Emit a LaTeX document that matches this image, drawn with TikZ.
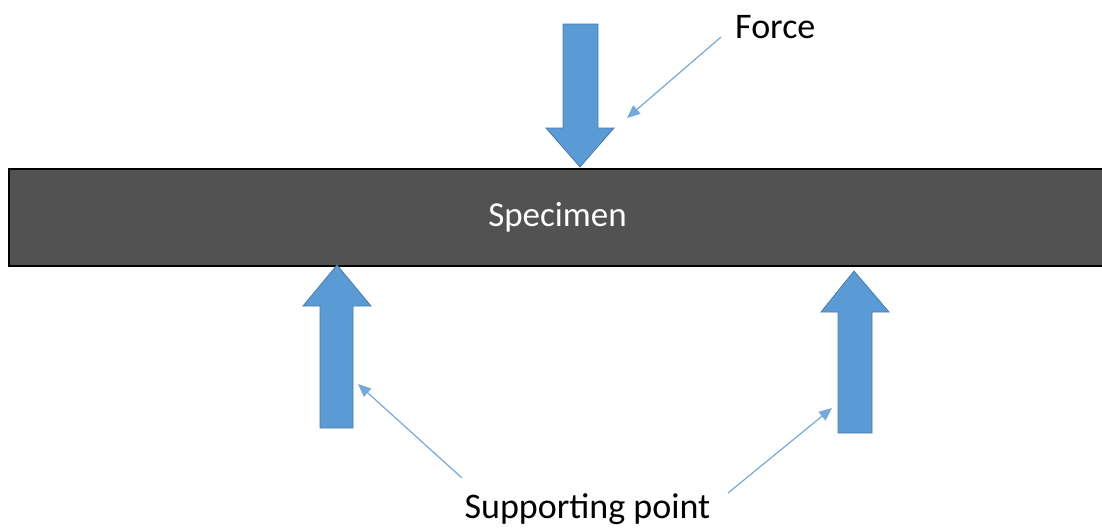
\documentclass[tikz,border=0pt]{standalone}
\usepackage{fontspec}
\setmainfont{Carlito}
\usepackage{xcolor}
\usepackage{tikz}
\usetikzlibrary{arrows.meta}
\definecolor{arrowblue}{RGB}{91,155,213}
\definecolor{specgray}{RGB}{82,82,82}

\begin{document}
\begin{tikzpicture}[x=1pt,y=-1pt]
    \tikzstyle{blockarrow}=[fill=arrowblue,draw=arrowblue!80!black,line width=0.8pt]
    \tikzstyle{pointer}=[arrowblue!85!white,line width=1.2pt,-{Triangle[length=13pt,width=11pt]}]
    \tikzstyle{label}=[inner sep=0pt,font=\fontsize{36}{42}\selectfont]
    \useasboundingbox (0,0) rectangle (1102,528);
    \clip (0,0) rectangle (1102,528);
    % Draw the specimen
    \node[draw=black,line width=1.5pt,fill=specgray,minimum width=1097pt,minimum height=97pt,
          inner sep=0pt,text=white,font=\fontsize{35}{42}\selectfont] (specimen) at (557.5,217.5) {Specimen};
    % Draw the force and the supports
    \draw[blockarrow] (563,24) -- (598,24) -- (598,128) -- (614,128) -- (580,167) -- (546,128) -- (563,128) -- cycle;
    \draw[blockarrow] (320,428) -- (353,428) -- (353,306) -- (371,306) -- (337,265) -- (303,306) -- (320,306) -- cycle;
    \draw[blockarrow] (838,433) -- (872,433) -- (872,312) -- (889,312) -- (854,271) -- (821,312) -- (838,312) -- cycle;
    % Labels
    \node[label,anchor=base west] (force) at (735,38) {Force};
    \node[label,anchor=base] (support) at (587.5,518) {Supporting point};
    \coordinate (forcetail) at (721,37);   \coordinate (forcetip) at (627,118);
    \coordinate (lefttail) at (462,478);   \coordinate (lefttip) at (358,384);
    \coordinate (righttail) at (728,493);  \coordinate (righttip) at (832,408);
    \draw[pointer] (forcetail) -- (forcetip);
    \draw[pointer] (lefttail) -- (lefttip);
    \draw[pointer] (righttail) -- (righttip);
\end{tikzpicture}
\end{document}
